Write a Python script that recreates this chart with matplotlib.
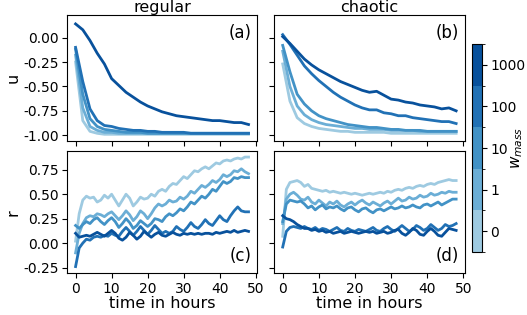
"""Regular vs chaotic runs: u and r over time for several w_mass weights."""

import matplotlib
matplotlib.use("Agg")
import matplotlib.pyplot as plt
import numpy as np
from matplotlib.colors import BoundaryNorm, ListedColormap
from matplotlib.cm import ScalarMappable


# ---------------------------------------------------------------------------
# Data
# ---------------------------------------------------------------------------

w_mass_labels = ["0", "1", "10", "100", "1000"]
colors = ["#9ecae1", "#6baed6", "#4292c6", "#2171b5", "#08519c"]

t_u = np.arange(0, 49, 2)   # hours, u panels
t_r = np.arange(0, 49, 1)   # hours, r panels

# (a) u, regular
a_w0 = [-0.25, -0.85, -0.96, -0.98, -0.99, -0.99, -0.99, -0.99, -0.99, -0.99, -0.99, -0.99, -0.99,
        -0.99, -0.99, -0.99, -0.99, -0.99, -0.99, -0.99, -0.99, -0.99, -0.99, -0.99, -0.99]
a_w1 = [-0.18, -0.72, -0.91, -0.95, -0.97, -0.97, -0.98, -0.98, -0.98, -0.98, -0.98, -0.98, -0.98,
        -0.98, -0.98, -0.98, -0.98, -0.98, -0.98, -0.98, -0.98, -0.98, -0.98, -0.98, -0.98]
a_w10 = [-0.12, -0.58, -0.83, -0.91, -0.94, -0.95, -0.96, -0.97, -0.97, -0.97, -0.98, -0.98, -0.98,
         -0.98, -0.98, -0.98, -0.98, -0.98, -0.98, -0.98, -0.98, -0.98, -0.98, -0.98, -0.98]
a_w100 = [-0.10, -0.45, -0.73, -0.85, -0.90, -0.91, -0.93, -0.94, -0.95, -0.95, -0.96, -0.96, -0.97,
          -0.97, -0.97, -0.97, -0.98, -0.98, -0.98, -0.98, -0.98, -0.98, -0.98, -0.98, -0.98]
a_w1000 = [0.14, 0.08, -0.03, -0.16, -0.27, -0.42, -0.49, -0.56, -0.61, -0.66, -0.70, -0.73, -0.76,
           -0.78, -0.80, -0.81, -0.82, -0.83, -0.84, -0.85, -0.85, -0.86, -0.87, -0.87, -0.89]

# (b) u, chaotic
b_w0 = [-0.27, -0.65, -0.82, -0.88, -0.91, -0.93, -0.94, -0.95, -0.96, -0.96, -0.97, -0.97, -0.97,
        -0.97, -0.97, -0.98, -0.98, -0.98, -0.98, -0.98, -0.98, -0.98, -0.98, -0.98, -0.98]
b_w1 = [-0.14, -0.50, -0.70, -0.79, -0.84, -0.87, -0.89, -0.90, -0.91, -0.92, -0.93, -0.93, -0.94,
        -0.94, -0.94, -0.95, -0.95, -0.95, -0.95, -0.96, -0.96, -0.96, -0.96, -0.96, -0.96]
b_w10 = [-0.08, -0.35, -0.58, -0.68, -0.75, -0.80, -0.83, -0.85, -0.87, -0.89, -0.90, -0.91, -0.92,
         -0.92, -0.93, -0.94, -0.94, -0.95, -0.95, -0.95, -0.96, -0.96, -0.96, -0.96, -0.96]
b_w100 = [0.03, -0.07, -0.18, -0.29, -0.37, -0.44, -0.50, -0.56, -0.61, -0.65, -0.69, -0.72, -0.74,
          -0.74, -0.77, -0.78, -0.80, -0.80, -0.82, -0.83, -0.84, -0.85, -0.86, -0.86, -0.88]
b_w1000 = [0.01, -0.06, -0.14, -0.22, -0.28, -0.33, -0.37, -0.41, -0.45, -0.48, -0.51, -0.54, -0.56,
           -0.55, -0.59, -0.63, -0.64, -0.66, -0.67, -0.69, -0.70, -0.71, -0.73, -0.72, -0.75]

# (c) r, regular
c_w0 = [0.02, 0.30, 0.44, 0.48, 0.46, 0.47, 0.42, 0.44, 0.49, 0.46, 0.50, 0.44, 0.38, 0.44, 0.50,
        0.46, 0.38, 0.42, 0.47, 0.45, 0.46, 0.50, 0.48, 0.53, 0.55, 0.53, 0.58, 0.61, 0.60, 0.64,
        0.68, 0.66, 0.70, 0.74, 0.73, 0.76, 0.78, 0.76, 0.79, 0.82, 0.81, 0.84, 0.85, 0.84, 0.86,
        0.87, 0.86, 0.88, 0.88]
c_w1 = [-0.10, 0.10, 0.20, 0.26, 0.28, 0.27, 0.30, 0.29, 0.27, 0.30, 0.32, 0.28, 0.24, 0.28, 0.33,
        0.29, 0.23, 0.27, 0.33, 0.30, 0.25, 0.30, 0.36, 0.40, 0.38, 0.40, 0.44, 0.42, 0.43, 0.47,
        0.45, 0.48, 0.53, 0.51, 0.55, 0.59, 0.57, 0.60, 0.64, 0.62, 0.65, 0.70, 0.68, 0.70, 0.74,
        0.73, 0.76, 0.73, 0.71]
c_w10 = [0.18, 0.15, 0.19, 0.22, 0.20, 0.24, 0.26, 0.22, 0.19, 0.23, 0.26, 0.22, 0.16, 0.20, 0.25,
         0.21, 0.15, 0.18, 0.23, 0.20, 0.17, 0.20, 0.25, 0.24, 0.22, 0.27, 0.30, 0.28, 0.31, 0.35,
         0.33, 0.37, 0.42, 0.40, 0.44, 0.48, 0.46, 0.50, 0.55, 0.53, 0.58, 0.63, 0.61, 0.63, 0.67,
         0.66, 0.68, 0.67, 0.67]
c_w100 = [-0.24, -0.05, 0.00, 0.04, 0.03, 0.06, 0.07, 0.06, 0.08, 0.07, 0.10, 0.08, 0.07, 0.12, 0.16,
          0.12, 0.08, 0.12, 0.17, 0.13, 0.09, 0.13, 0.18, 0.14, 0.10, 0.12, 0.10, 0.12, 0.17, 0.14,
          0.12, 0.16, 0.21, 0.17, 0.15, 0.19, 0.24, 0.20, 0.18, 0.23, 0.28, 0.24, 0.22, 0.28, 0.33,
          0.37, 0.33, 0.32, 0.32]
c_w1000 = [0.10, 0.06, 0.07, 0.08, 0.07, 0.09, 0.11, 0.09, 0.07, 0.10, 0.13, 0.10, 0.05, 0.03, 0.06,
           0.11, 0.08, 0.04, 0.07, 0.12, 0.09, 0.06, 0.09, 0.11, 0.08, 0.07, 0.09, 0.11, 0.09, 0.08,
           0.10, 0.09, 0.10, 0.09, 0.10, 0.09, 0.10, 0.10, 0.09, 0.11, 0.10, 0.11, 0.12, 0.11, 0.13,
           0.11, 0.12, 0.13, 0.12]

# (d) r, chaotic
d_w0 = [0.07, 0.55, 0.62, 0.63, 0.64, 0.62, 0.58, 0.60, 0.56, 0.55, 0.54, 0.53, 0.54, 0.52, 0.53,
        0.52, 0.51, 0.52, 0.51, 0.50, 0.51, 0.50, 0.49, 0.50, 0.51, 0.50, 0.51, 0.52, 0.51, 0.53,
        0.52, 0.54, 0.55, 0.54, 0.56, 0.57, 0.56, 0.58, 0.59, 0.58, 0.60, 0.61, 0.60, 0.62, 0.63,
        0.64, 0.65, 0.64, 0.64]
d_w1 = [0.20, 0.45, 0.50, 0.52, 0.49, 0.45, 0.44, 0.47, 0.42, 0.40, 0.44, 0.41, 0.38, 0.42, 0.40,
        0.43, 0.39, 0.37, 0.40, 0.42, 0.39, 0.42, 0.44, 0.41, 0.39, 0.42, 0.40, 0.38, 0.41, 0.43,
        0.40, 0.43, 0.46, 0.43, 0.44, 0.47, 0.45, 0.46, 0.49, 0.47, 0.48, 0.51, 0.49, 0.50, 0.52,
        0.51, 0.53, 0.52, 0.52]
d_w10 = [0.22, 0.40, 0.44, 0.43, 0.42, 0.43, 0.40, 0.36, 0.38, 0.34, 0.37, 0.39, 0.35, 0.37, 0.36,
         0.38, 0.35, 0.33, 0.36, 0.37, 0.34, 0.32, 0.35, 0.36, 0.33, 0.31, 0.34, 0.35, 0.33, 0.35,
         0.37, 0.35, 0.36, 0.38, 0.36, 0.37, 0.39, 0.37, 0.36, 0.39, 0.40, 0.38, 0.40, 0.42, 0.39,
         0.41, 0.43, 0.45, 0.45]
d_w100 = [-0.04, 0.12, 0.16, 0.17, 0.16, 0.15, 0.17, 0.15, 0.14, 0.16, 0.13, 0.15, 0.14, 0.12, 0.14,
          0.16, 0.13, 0.12, 0.15, 0.13, 0.12, 0.14, 0.13, 0.12, 0.14, 0.16, 0.13, 0.12, 0.15, 0.17,
          0.14, 0.12, 0.15, 0.18, 0.15, 0.12, 0.14, 0.18, 0.16, 0.13, 0.15, 0.19, 0.16, 0.13, 0.15,
          0.19, 0.17, 0.18, 0.20]
d_w1000 = [0.28, 0.25, 0.24, 0.22, 0.19, 0.17, 0.15, 0.15, 0.13, 0.14, 0.12, 0.13, 0.11, 0.12, 0.10,
           0.11, 0.12, 0.10, 0.11, 0.12, 0.11, 0.10, 0.11, 0.12, 0.11, 0.12, 0.10, 0.11, 0.12, 0.10,
           0.11, 0.13, 0.14, 0.10, 0.08, 0.11, 0.15, 0.13, 0.09, 0.08, 0.12, 0.15, 0.12, 0.08, 0.07,
           0.11, 0.15, 0.14, 0.13]

panels = [
    ("a", t_u, [a_w0, a_w1, a_w10, a_w100, a_w1000]),
    ("b", t_u, [b_w0, b_w1, b_w10, b_w100, b_w1000]),
    ("c", t_r, [c_w0, c_w1, c_w10, c_w100, c_w1000]),
    ("d", t_r, [d_w0, d_w1, d_w10, d_w100, d_w1000]),
]


# ---------------------------------------------------------------------------
# Figure
# ---------------------------------------------------------------------------

fig = plt.figure(figsize=(5.27, 3.15), dpi=100)
ax_a = fig.add_axes([0.127, 0.552, 0.361, 0.400])
ax_b = fig.add_axes([0.520, 0.552, 0.362, 0.400])
ax_c = fig.add_axes([0.127, 0.132, 0.361, 0.388])
ax_d = fig.add_axes([0.520, 0.132, 0.362, 0.388])
axes = [ax_a, ax_b, ax_c, ax_d]

for ax, (tag, t, series) in zip(axes, panels):
    for y, col in zip(series, colors):
        ax.plot(t, y, color=col, linewidth=2)
    ax.set_xlim(-2.4, 50.4)
    ax.set_xticks([0, 10, 20, 30, 40, 50])
    ax.tick_params(labelsize=10, pad=2.5)
    if tag in ("a", "b"):
        ax.set_ylim(-1.06, 0.23)
        ax.set_yticks([0.0, -0.25, -0.5, -0.75, -1.0])
        ax.text(0.97, 0.93, f"({tag})", transform=ax.transAxes,
                ha="right", va="top", fontsize=12)
        ax.set_xticklabels([])
    else:
        ax.set_ylim(-0.31, 0.94)
        ax.set_yticks([-0.25, 0.0, 0.25, 0.5, 0.75])
        ax.text(0.97, 0.07, f"({tag})", transform=ax.transAxes,
                ha="right", va="bottom", fontsize=12)
        ax.set_xlabel("time in hours", fontsize=11.5, labelpad=0)
    if tag in ("b", "d"):
        ax.set_yticklabels([])

ax_a.yaxis.set_major_formatter(matplotlib.ticker.FormatStrFormatter("%.2f"))
ax_c.yaxis.set_major_formatter(matplotlib.ticker.FormatStrFormatter("%.2f"))
ax_a.set_ylabel("u", fontsize=11.5, labelpad=2)
ax_c.set_ylabel("r", fontsize=11.5, labelpad=2)
ax_a.set_title("regular", fontsize=11.5, pad=1.5)
ax_b.set_title("chaotic", fontsize=11.5, pad=1.5)

# discrete colorbar for w_mass
cax = fig.add_axes([0.895, 0.200, 0.019, 0.660])
cmap = ListedColormap(colors)
norm = BoundaryNorm(np.arange(len(colors) + 1), cmap.N)
cb = fig.colorbar(ScalarMappable(norm=norm, cmap=cmap), cax=cax)
cb.set_ticks(np.arange(len(colors)) + 0.5)
cb.set_ticklabels(w_mass_labels)
cb.ax.tick_params(labelsize=10, pad=2.5)
cb.set_label("$w_{mass}$", fontsize=11)
cb.ax.yaxis.set_label_coords(3.8, 0.5)

fig.savefig("out.png", dpi=100)
